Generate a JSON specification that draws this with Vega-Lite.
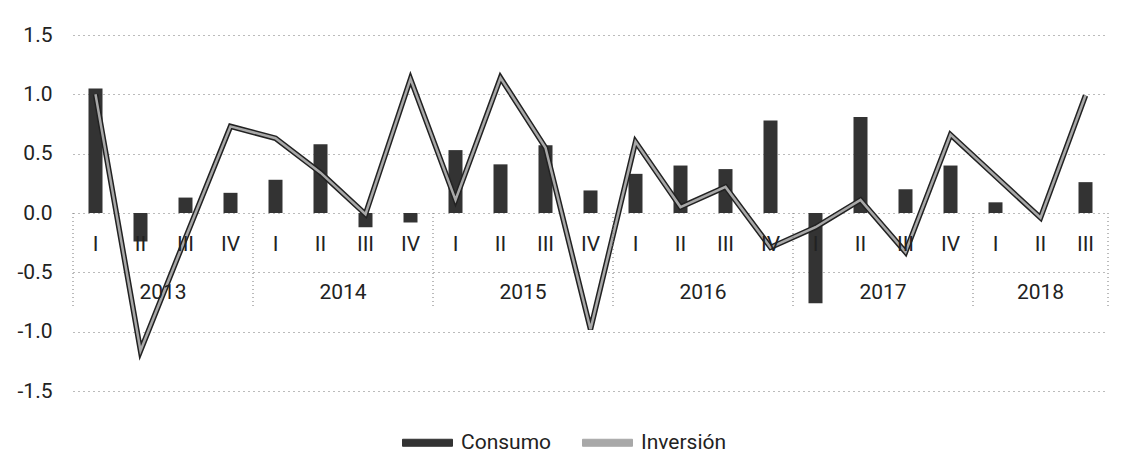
{
  "$schema": "https://vega.github.io/schema/vega-lite/v6.json",
  "width": 1035,
  "height": 356,
  "autosize": {"type": "none"},
  "padding": {"left": 73, "top": 35, "right": 15, "bottom": 62},
  "background": "white",
  "config": {
    "view": {"stroke": null},
    "font": "Roboto",
    "text": {"font": "Roboto", "color": "#222222"}
  },
  "data": {
    "values": [
      {"periodo": "2013-I", "anio": "2013", "trim": "I", "Consumo": 1.05, "Inversion": 1.0},
      {"periodo": "2013-II", "anio": "2013", "trim": "II", "Consumo": -0.24, "Inversion": -1.16},
      {"periodo": "2013-III", "anio": "2013", "trim": "III", "Consumo": 0.13, "Inversion": -0.21},
      {"periodo": "2013-IV", "anio": "2013", "trim": "IV", "Consumo": 0.17, "Inversion": 0.73},
      {"periodo": "2014-I", "anio": "2014", "trim": "I", "Consumo": 0.28, "Inversion": 0.63},
      {"periodo": "2014-II", "anio": "2014", "trim": "II", "Consumo": 0.58, "Inversion": 0.34},
      {"periodo": "2014-III", "anio": "2014", "trim": "III", "Consumo": -0.12, "Inversion": -0.01},
      {"periodo": "2014-IV", "anio": "2014", "trim": "IV", "Consumo": -0.08, "Inversion": 1.13},
      {"periodo": "2015-I", "anio": "2015", "trim": "I", "Consumo": 0.53, "Inversion": 0.11},
      {"periodo": "2015-II", "anio": "2015", "trim": "II", "Consumo": 0.41, "Inversion": 1.14},
      {"periodo": "2015-III", "anio": "2015", "trim": "III", "Consumo": 0.57, "Inversion": 0.55},
      {"periodo": "2015-IV", "anio": "2015", "trim": "IV", "Consumo": 0.19, "Inversion": -0.98},
      {"periodo": "2016-I", "anio": "2016", "trim": "I", "Consumo": 0.33, "Inversion": 0.6},
      {"periodo": "2016-II", "anio": "2016", "trim": "II", "Consumo": 0.4, "Inversion": 0.05},
      {"periodo": "2016-III", "anio": "2016", "trim": "III", "Consumo": 0.37, "Inversion": 0.22},
      {"periodo": "2016-IV", "anio": "2016", "trim": "IV", "Consumo": 0.78, "Inversion": -0.29},
      {"periodo": "2017-I", "anio": "2017", "trim": "I", "Consumo": -0.76, "Inversion": -0.12},
      {"periodo": "2017-II", "anio": "2017", "trim": "II", "Consumo": 0.81, "Inversion": 0.11},
      {"periodo": "2017-III", "anio": "2017", "trim": "III", "Consumo": 0.2, "Inversion": -0.33},
      {"periodo": "2017-IV", "anio": "2017", "trim": "IV", "Consumo": 0.4, "Inversion": 0.66},
      {"periodo": "2018-I", "anio": "2018", "trim": "I", "Consumo": 0.09, "Inversion": 0.31},
      {"periodo": "2018-II", "anio": "2018", "trim": "II", "Consumo": 0.0, "Inversion": -0.04},
      {"periodo": "2018-III", "anio": "2018", "trim": "III", "Consumo": 0.26, "Inversion": 0.99}
    ]
  },
  "encoding": {
    "x": {
      "field": "periodo",
      "type": "ordinal",
      "sort": null,
      "scale": {"paddingInner": 0, "paddingOuter": 0},
      "axis": null
    }
  },
  "layer": [
    {
      "mark": {"type": "bar", "size": 14},
      "encoding": {
        "y": {
          "field": "Consumo",
          "type": "quantitative",
          "scale": {"domain": [-1.5, 1.5], "nice": false},
          "axis": {
            "title": null,
            "values": [-1.5, -1, -0.5, 0, 0.5, 1, 1.5],
            "labelExpr": "datum.value < 0 ? '-' + format(-datum.value, '.1f') : format(datum.value, '.1f')",
            "domain": false,
            "ticks": false,
            "labelPadding": 21,
            "labelFontSize": 21,
            "labelColor": "#222222",
            "labelFont": "Roboto",
            "grid": true,
            "gridColor": "#777777",
            "gridDash": [1, 4],
            "gridWidth": 1
          }
        },
        "color": {
          "datum": "Consumo",
          "type": "nominal",
          "scale": {"domain": ["Consumo", "Inversión"], "range": ["#333333", "#a8a8a8"]},
          "legend": {
            "title": null,
            "orient": "none",
            "legendX": 329,
            "legendY": 382,
            "direction": "horizontal",
            "symbolType": "M-1,-0.14H1V0.14H-1Z",
            "symbolSize": 2500,
            "symbolStrokeColor": "#222222",
            "symbolStrokeWidth": 1,
            "labelFontSize": 21,
            "labelFont": "Roboto",
            "labelColor": "#222222",
            "labelOffset": 8,
            "columnPadding": 28,
            "encode": {
              "symbols": {
                "update": {
                  "fill": {"scale": "color", "field": "value"},
                  "stroke": {"value": "#222222"},
                  "strokeWidth": {"value": 1},
                  "opacity": {"value": 1}
                }
              }
            }
          }
        }
      }
    },
    {
      "mark": {"type": "line", "strokeWidth": 5.5, "color": "#222222", "strokeJoin": "miter"},
      "encoding": {"y": {"field": "Inversion", "type": "quantitative"}}
    },
    {
      "mark": {"type": "line", "strokeWidth": 2.5, "strokeJoin": "miter"},
      "encoding": {
        "y": {"field": "Inversion", "type": "quantitative"},
        "color": {"datum": "Inversión", "type": "nominal"}
      }
    },
    {
      "transform": [{"filter": "datum.trim == 'I'"}],
      "mark": {"type": "rule", "color": "#777777", "strokeDash": [1, 3], "strokeWidth": 1},
      "encoding": {
        "x": {"field": "periodo", "type": "ordinal", "sort": null, "bandPosition": 0},
        "y": {"datum": 0, "type": "quantitative"},
        "y2": {"datum": -0.79}
      }
    },
    {
      "transform": [{"filter": "datum.periodo == '2018-III'"}],
      "mark": {"type": "rule", "color": "#777777", "strokeDash": [1, 3], "strokeWidth": 1},
      "encoding": {
        "x": {"field": "periodo", "type": "ordinal", "sort": null, "bandPosition": 1},
        "y": {"datum": 0, "type": "quantitative"},
        "y2": {"datum": -0.79}
      }
    },
    {
      "mark": {"type": "text", "fontSize": 21, "baseline": "middle", "align": "center"},
      "encoding": {
        "y": {"datum": -0.27, "type": "quantitative"},
        "text": {"field": "trim"}
      }
    },
    {
      "transform": [{"filter": "datum.trim == 'II' && datum.anio != '2018'"}],
      "mark": {"type": "text", "fontSize": 21, "baseline": "middle", "align": "center"},
      "encoding": {
        "x": {"field": "periodo", "type": "ordinal", "sort": null, "bandPosition": 1},
        "y": {"datum": -0.67, "type": "quantitative"},
        "text": {"field": "anio"}
      }
    },
    {
      "transform": [{"filter": "datum.trim == 'II' && datum.anio == '2018'"}],
      "mark": {"type": "text", "fontSize": 21, "baseline": "middle", "align": "center"},
      "encoding": {
        "y": {"datum": -0.67, "type": "quantitative"},
        "text": {"field": "anio"}
      }
    }
  ]
}
